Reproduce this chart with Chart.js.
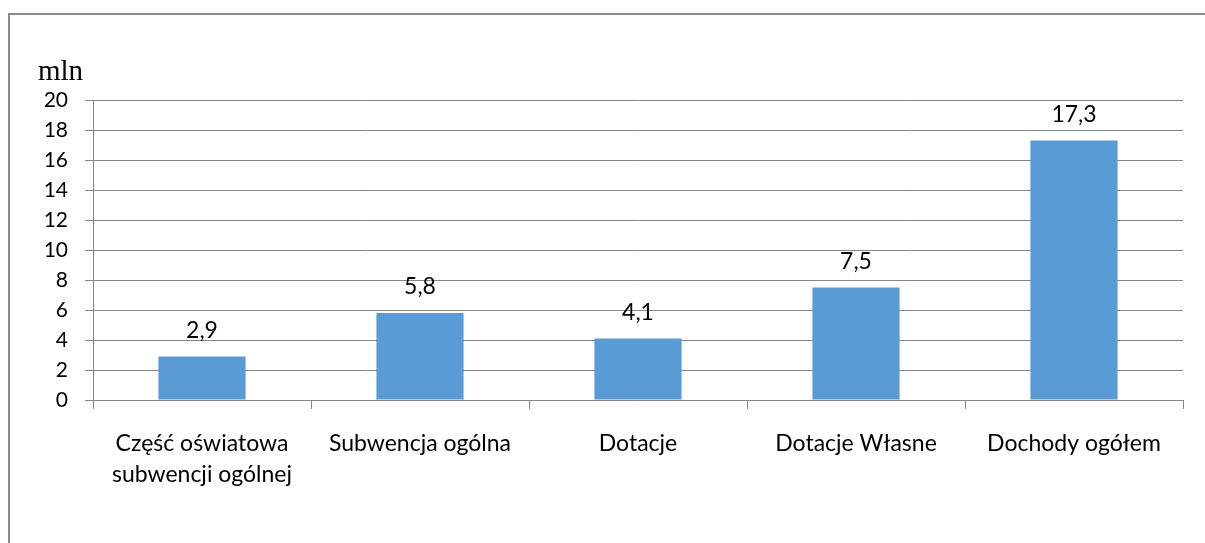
<!DOCTYPE html>
<html>
<head>
<meta charset="utf-8">
<script src="https://cdn.jsdelivr.net/npm/chart.js@4"></script>
<style>
html,body{margin:0;padding:0;background:#fff;overflow:hidden;}
#wrap{position:relative;width:1205px;height:543px;}
#frame{position:absolute;left:8px;top:13px;width:1300px;height:700px;border:2px solid #8a8a8a;box-sizing:border-box;}
canvas{position:absolute;left:0;top:0;}
</style>
</head>
<body>
<div id="wrap"><div id="frame"></div><canvas id="c" width="1205" height="543"></canvas></div>
<script>
const categories = [
  ["Część oświatowa", "subwencji ogólnej"],
  "Subwencja ogólna",
  "Dotacje",
  "Dotacje Własne",
  "Dochody ogółem"
];
const values = [2.9, 5.8, 4.1, 7.5, 17.3];
const unitLabel = "mln";
const yMin = 0, yMax = 20, yStep = 2;

const FONT = "Lato, 'Open Sans', sans-serif";
const GRID = "#868686";

const extras = {
  id: "extras",
  afterDatasetsDraw(chart) {
    const ctx = chart.ctx;
    ctx.save();
    ctx.fillStyle = "#000";
    ctx.font = "23px " + FONT;
    ctx.textAlign = "center";
    ctx.textBaseline = "middle";
    const meta = chart.getDatasetMeta(0);
    meta.data.forEach((bar, i) => {
      ctx.fillText(values[i].toFixed(1).replace(".", ","), bar.x, bar.y - 26);
    });
    ctx.font = "29px 'Liberation Serif', 'DejaVu Serif', serif";
    ctx.textAlign = "left";
    ctx.textBaseline = "alphabetic";
    ctx.fillText(unitLabel, 38, 80);
    ctx.restore();
  }
};

new Chart(document.getElementById("c"), {
  type: "bar",
  data: {
    labels: categories,
    datasets: [{
      data: values,
      backgroundColor: "#5B9BD5",
      borderWidth: 0,
      categoryPercentage: 0.4,
      barPercentage: 1.0
    }]
  },
  options: {
    responsive: false,
    animation: false,
    devicePixelRatio: 1,
    layout: { padding: { top: 100, right: 22, left: 0, bottom: 0 } },
    plugins: { legend: { display: false }, tooltip: { enabled: false } },
    scales: {
      y: {
        min: yMin, max: yMax,
        ticks: { stepSize: yStep, color: "#000", font: { family: FONT, size: 21 }, padding: 17 },
        grid: { color: GRID, tickLength: 8, lineWidth: 1 },
        border: { color: GRID },
        afterFit(s) { s.width = 93; }
      },
      x: {
        ticks: { color: "#000", font: { family: FONT, size: 23, lineHeight: 1.36 }, padding: 19, maxRotation: 0, autoSkip: false },
        grid: { color: GRID, drawOnChartArea: false, tickLength: 9, offset: true },
        border: { color: GRID },
        afterFit(s) { s.height = 143; }
      }
    }
  },
  plugins: [extras]
});
</script>
</body>
</html>
